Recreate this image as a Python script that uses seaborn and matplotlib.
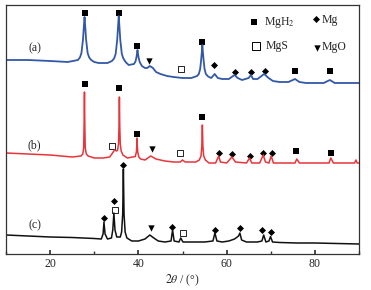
import numpy as np
import pandas as pd
import matplotlib
matplotlib.use("Agg")
import matplotlib.pyplot as plt
from matplotlib.ticker import MultipleLocator
import seaborn as sns

# ── XRD patterns (2θ in degrees, intensity in arbitrary offset units) ──
tt_a = [10, 15, 20, 24, 26.3, 26.75, 27.1, 27.45, 27.65, 27.8, 27.95, 28.15, 28.5, 28.85,
        29.3, 30, 31, 33, 34.0, 34.5, 34.85, 35.2, 35.4, 35.55, 35.7, 35.9, 36.25, 36.6,
        37.1, 37.8, 39.0, 39.35, 39.55, 39.68, 39.8, 39.92, 40.05, 40.3, 40.8, 41.5, 42.0,
        42.6, 43.3, 44, 45, 46.5, 48, 50, 52, 53.3, 53.7, 54.0, 54.2, 54.38, 54.5, 54.62,
        54.8, 55.0, 55.3, 55.8, 56.5, 57.3, 58, 59, 60.5, 61.8, 62.5, 63.5, 65.0, 65.5, 66,
        67, 68.5, 69.5, 70.5, 72, 74, 75.5, 76.5, 78, 80, 82, 83.4, 84.5, 86, 88, 90]
int_a = [194, 194, 193, 192, 194, 196.5, 201, 214.5, 228, 237, 228, 214.5, 201, 196.5,
         194, 192, 191, 191, 193, 195.5, 200, 214, 228, 238, 228, 214, 200, 195.5,
         192, 189, 190, 192.5, 196.5, 200, 204, 200, 196.5, 192, 188, 186, 186,
         188, 186, 182, 180, 178, 177, 176, 176, 178, 180, 185, 193, 202, 209, 202,
         193, 185, 180, 177.5, 176, 180, 176, 175, 175, 179, 176, 174, 176, 179, 175,
         175, 180, 176, 173, 172, 172, 175, 172, 171, 171, 171, 174, 171, 171, 171, 171]

tt_b = [10, 15, 20, 25, 27.0, 27.4, 27.6, 27.7, 27.78, 27.86, 27.96, 28.2, 28.6, 30, 32,
        33.5, 34.3, 34.6, 35.1, 35.3, 35.5, 35.62, 35.7, 35.78, 35.9, 36.1, 36.5, 37.5,
        39.3, 39.55, 39.64, 39.7, 39.76, 39.86, 40.1, 40.5, 41.5, 42.8, 44, 46, 48, 49.5,
        50.0, 50.6, 53, 53.8, 54.2, 54.38, 54.5, 54.62, 54.8, 55.2, 56, 57.5, 58.2, 58.6,
        60, 61.2, 62, 64.5, 65.2, 65.7, 67.5, 68.3, 68.8, 69.6, 70.1, 70.6, 73, 75.5,
        75.9, 76.5, 80, 83.2, 83.6, 84.2, 87, 89.0, 89.3, 89.6, 90]
int_b = [101, 100, 99, 97, 98, 100, 106, 130, 162, 130, 106, 100, 98, 96, 96,
         97, 102, 104, 103, 104, 110, 130, 157, 128, 110, 103, 99, 96,
         97.5, 102, 108, 116, 108, 102, 97, 95, 94, 98, 95, 93, 92, 92,
         94, 92, 92, 94, 98, 108, 129, 108, 98, 94, 91, 91, 98, 92,
         91, 97, 92, 91, 96, 91, 91, 99, 92, 91, 98, 91, 91, 91,
         95, 91, 91, 91, 96, 91, 91, 91, 94, 91, 91]

tt_c = [10, 15, 20, 25, 30, 31.6, 32.0, 32.2, 32.45, 33.0, 33.9, 34.2, 34.45, 34.7, 35.1,
        35.9, 36.2, 36.45, 36.6, 36.75, 37.0, 37.4, 38.5, 40, 41.5, 42.6, 43.5, 44.5, 46,
        47.4, 47.75, 48.1, 49.2, 49.6, 50.1, 52, 55, 56.9, 57.35, 57.8, 59, 60.5, 61.8,
        62.7, 63.0, 63.4, 64.5, 67, 68.0, 68.4, 68.9, 69.6, 69.95, 70.4, 72, 76, 80, 85, 90]
int_c = [19, 18, 17, 16.5, 15.5, 15, 20, 32, 20, 15, 16, 24, 41, 24, 17,
         17, 22, 40, 85, 40, 22, 16, 13, 13, 15, 19, 16, 13, 12,
         13, 24, 13, 12, 16, 12, 12, 12, 13, 21, 13, 12, 13, 15,
         18, 21, 14, 12, 12, 13, 19, 12, 13, 17.5, 12, 11.5, 11, 11, 10.5, 10]

# ── phase markers: (2θ, height) ──
mgh2_tt = [27.8, 35.5, 39.8, 54.5, 75.6, 83.4, 27.8, 35.7, 39.7, 54.5, 75.8, 83.6]
mgh2_y = [241, 241, 208, 212, 183, 183, 170, 166, 120, 137, 103, 101]
mg_tt = [57.2, 61.9, 65.5, 68.7, 58.3, 61.3, 65.3, 68.3, 70.2,
         32.2, 34.45, 36.6, 47.7, 57.4, 63.1, 68.1, 69.95]
mg_y = [189, 182, 182, 183, 101, 100, 98, 101, 101,
        36, 53, 89, 27, 24, 26, 24, 22]
mgs_tt = [49.6, 34.0, 49.4, 34.6, 50.1]
mgs_y = [185, 108, 101, 44, 21]
mgo_tt = [42.5, 43.1, 42.8]
mgo_y = [193, 105, 26]

curve_labels = ["(a)", "(b)", "(c)"]
label_y = [206, 109, 29]
colors = ["#3358a8", "#e8343a", "#111111"]
widths = [1.3, 1.1, 1.1]

sns.set_theme(style="ticks")
plt.rcParams["font.family"] = ["Liberation Serif", "DejaVu Serif"]
plt.rcParams["mathtext.fontset"] = "stix"

fig = plt.figure(figsize=(3.71, 2.90), dpi=100)
ax = fig.add_axes([6 / 371, 1 - 254 / 290, 353 / 371, 249 / 290])

for tt, yy, c, w in zip([tt_a, tt_b, tt_c], [int_a, int_b, int_c], colors, widths):
    d = pd.DataFrame({"tt": tt, "I": yy})
    sns.lineplot(data=d, x="tt", y="I", color=c, lw=w, ax=ax)

ms = 16
sns.scatterplot(x=mgh2_tt, y=mgh2_y, marker="s", s=ms, color="black", lw=0, ax=ax)
sns.scatterplot(x=mg_tt, y=mg_y, marker="D", s=ms * 0.8, color="black", lw=0, ax=ax)
sns.scatterplot(x=mgs_tt, y=mgs_y, marker="s", s=ms, facecolor="white", edgecolor="black", lw=0.6, ax=ax)
sns.scatterplot(x=mgo_tt, y=mgo_y, marker="v", s=ms * 1.3, color="black", lw=0, ax=ax)

for lbl, y in zip(curve_labels, label_y):
    ax.text(16.5, y, lbl, fontsize=8.5, ha="center", va="center")

# legend drawn as text + markers in data space
ax.scatter([66.2], [232], marker="s", s=ms, color="black", lw=0)
ax.text(68.4, 232, r"MgH$_2$", fontsize=8.5, va="center")
ax.scatter([80.2], [235], marker="D", s=ms * 0.8, color="black", lw=0)
ax.text(81.6, 234, "Mg", fontsize=8.5, va="center")
ax.scatter([66.6], [208], marker="s", s=26, facecolor="white", edgecolor="black", lw=0.7)
ax.text(68.8, 208, "MgS", fontsize=8.5, va="center")
ax.scatter([80.4], [206], marker="v", s=ms * 1.3, color="black", lw=0)
ax.text(81.6, 207, "MgO", fontsize=8.5, va="center")

ax.set_xlim(10, 90)
ax.set_ylim(0, 249)
ax.xaxis.set_major_locator(MultipleLocator(20))
ax.xaxis.set_minor_locator(MultipleLocator(10))
ax.tick_params(axis="x", which="both", direction="in", labelsize=8.5, pad=3,
               top=False, color="#333333")
ax.tick_params(axis="x", which="major", length=3)
ax.tick_params(axis="x", which="minor", length=2)
ax.set_yticks([])
ax.set_ylabel("")
ax.set_xlabel(r"$2\theta$ / (°)", fontsize=8.5, labelpad=2)
for s in ax.spines.values():
    s.set_visible(True)
    s.set_color("#333333")
    s.set_linewidth(0.9)

fig.savefig("out.png", dpi=100)
